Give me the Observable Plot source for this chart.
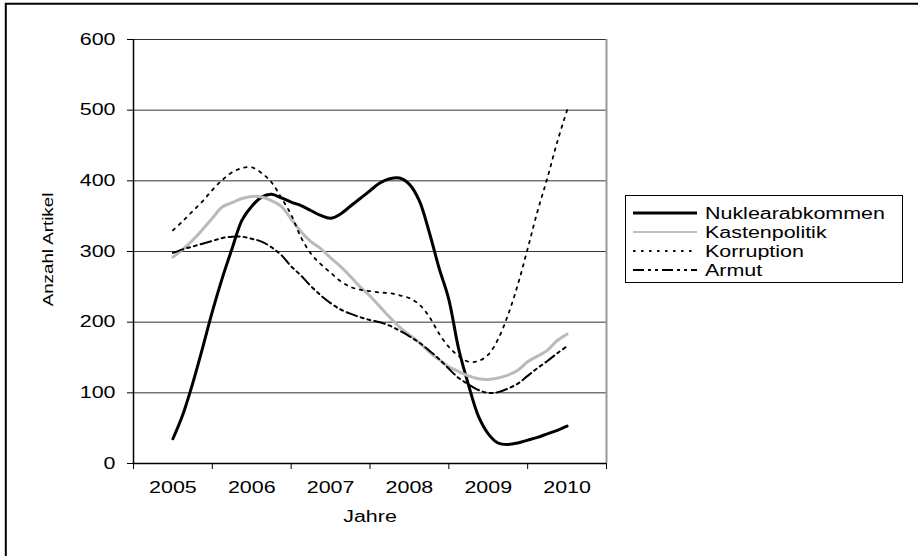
<!DOCTYPE html>
<html><head><meta charset="utf-8">
<script src="https://cdn.jsdelivr.net/npm/d3@7"></script>
<script src="https://cdn.jsdelivr.net/npm/@observablehq/plot@0.6"></script>
<style>body{margin:0;background:#fff;} #chart svg{display:block;}</style>
</head><body><div id="chart"></div>
<script>
// time grid (years, 1/8-year steps)
const years = [2005, 2005.125, 2005.25, 2005.375, 2005.5, 2005.625, 2005.75, 2005.875,
  2006, 2006.125, 2006.25, 2006.375, 2006.5, 2006.625, 2006.75, 2006.875,
  2007, 2007.125, 2007.25, 2007.375, 2007.5, 2007.625, 2007.75, 2007.875,
  2008, 2008.125, 2008.25, 2008.375, 2008.5, 2008.625, 2008.75, 2008.875,
  2009, 2009.125, 2009.25, 2009.375, 2009.5, 2009.625, 2009.75, 2009.875, 2010];

const nuklearabkommen = [35, 69, 113, 163, 215, 262, 304, 344,
  364, 377, 381, 376, 370, 365, 358, 351,
  347, 353, 364, 375, 386, 397, 403, 404,
  395, 372, 328, 277, 232, 162, 111, 67,
  42, 29, 27, 29, 33, 37, 42, 47, 53];

const kastenpolitik = [292, 303, 316, 331, 347, 363, 369, 375,
  378, 377, 372, 364, 346, 328, 314, 304,
  291, 279, 265, 250, 237, 222, 207, 193,
  182, 171, 158, 147, 137, 130, 124, 120,
  119, 121, 125, 132, 144, 152, 160, 174, 183];

const korruption = [330, 343, 357, 371, 387, 401, 412, 418,
  419, 411, 398, 376, 352, 320, 297, 282,
  270, 258, 250, 246, 244, 242, 241, 238,
  234, 225, 208, 184, 165, 152, 144, 145,
  154, 176, 210, 253, 304, 357, 404, 455, 500];

const armut = [298, 303, 307, 311, 315, 319, 321, 321,
  318, 314, 306, 295, 279, 266, 251, 238,
  227, 218, 212, 207, 203, 200, 195, 188,
  180, 171, 160, 148, 134, 121, 112, 104,
  100, 101, 106, 113, 124, 135, 145, 156, 166];

const seriesNames = ["Nuklearabkommen", "Kastenpolitik", "Korruption", "Armut"];
const yTicks = [0, 100, 200, 300, 400, 500, 600];
const xLabels = [2005, 2006, 2007, 2008, 2009, 2010];
const xBounds = [2004.5, 2005.5, 2006.5, 2007.5, 2008.5, 2009.5, 2010.5];
const xTitle = "Jahre";
const yTitle = "Anzahl Artikel";

const seriesValues = [nuklearabkommen, kastenpolitik, korruption, armut];
const lineStyles = [
  {stroke: "#000", strokeWidth: 3},
  {stroke: "#bababa", strokeWidth: 3},
  {stroke: "#000", strokeWidth: 1.8, strokeDasharray: "2.5,5.5"},
  {stroke: "#000", strokeWidth: 2, strokeDasharray: "11,4,3,4,3,4"}
];
const legendStyles = [
  {stroke: "#000", strokeWidth: 3},
  {stroke: "#aaa", strokeWidth: 1.5},
  {stroke: "#000", strokeWidth: 1.8, strokeDasharray: "2.5,5.5"},
  {stroke: "#000", strokeWidth: 2, strokeDasharray: "11,4,3,4,3,4"}
];

const rowsOf = vals => years.map((y, i) => ({year: y, value: vals[i]}));

const lineMarks = seriesValues.map((vals, i) =>
  Plot.line(rowsOf(vals), {x: "year", y: "value", curve: "catmull-rom", ...lineStyles[i]}));

const svg = Plot.plot({
  width: 918, height: 556,
  marginLeft: 133, marginRight: 312, marginTop: 39, marginBottom: 93,
  style: {fontFamily: "'Liberation Sans', Arial, sans-serif", fontSize: "16px", background: "#fff", color: "#000"},
  x: {domain: [2004.5, 2010.5]},
  y: {domain: [0, 600]},
  marks: [
    Plot.gridY(yTicks.filter(d => d > 0), {stroke: "#333", strokeOpacity: 1, strokeWidth: 1}),
    Plot.ruleX([2010.5], {stroke: "#999", strokeWidth: 2}),
    Plot.axisY(yTicks, {tickSize: 6, tickPadding: 12, label: null, tickFormat: d => String(d)}),
    Plot.axisX(xBounds, {tickSize: 6, tickFormat: () => "", label: null}),
    Plot.axisX(xLabels, {tickSize: 0, tickPadding: 18, tickFormat: d => String(d), label: null}),
    Plot.ruleX([2004.5], {stroke: "#000", strokeWidth: 1.5}),
    Plot.ruleY([0], {stroke: "#000", strokeWidth: 1.5}),
    ...lineMarks,
    Plot.text([xTitle], {text: d => d, frameAnchor: "bottom", dy: 58, fontSize: 16, textAnchor: "middle"}),
    Plot.text([yTitle], {text: d => d, frameAnchor: "left", dx: -85, dy: -2, rotate: -90, fontSize: 14, textAnchor: "middle"})
  ]
});

document.getElementById("chart").appendChild(svg);

const s = d3.select(svg);
// outer frame (top and left edges)
s.append("line").attr("x1", 5).attr("x2", 918).attr("y1", 3.7).attr("y2", 3.7).attr("stroke", "#000").attr("stroke-width", 2);
s.append("line").attr("x1", 5.8).attr("x2", 5.8).attr("y1", 3).attr("y2", 556).attr("stroke", "#000").attr("stroke-width", 2);

// legend
const lg = s.append("g").attr("text-anchor", "start");
lg.append("rect").attr("x", 625.5).attr("y", 195.5).attr("width", 277).attr("height", 87)
  .attr("fill", "#fff").attr("stroke", "#000").attr("stroke-width", 1);
const rowY = [213, 232, 251, 270];
seriesNames.forEach((name, i) => {
  const st = legendStyles[i];
  lg.append("line").attr("x1", 633).attr("x2", 697).attr("y1", rowY[i]).attr("y2", rowY[i])
    .attr("stroke", st.stroke).attr("stroke-width", st.strokeWidth)
    .attr("stroke-dasharray", st.strokeDasharray || null);
  lg.append("text").attr("x", 705).attr("y", rowY[i]).attr("dy", "0.35em")
    .attr("text-anchor", "start")
    .attr("font-family", "'Liberation Sans', Arial, sans-serif").attr("font-size", 16)
    .attr("fill", "#000").text(name);
});

// widen glyphs horizontally like the reference rendering
svg.querySelectorAll("text").forEach(t => {
  const L = t.getComputedTextLength();
  if (L > 0) {
    t.setAttribute("textLength", (L * 1.34).toFixed(1));
    t.setAttribute("lengthAdjust", "spacingAndGlyphs");
  }
});
</script>
</body></html>
